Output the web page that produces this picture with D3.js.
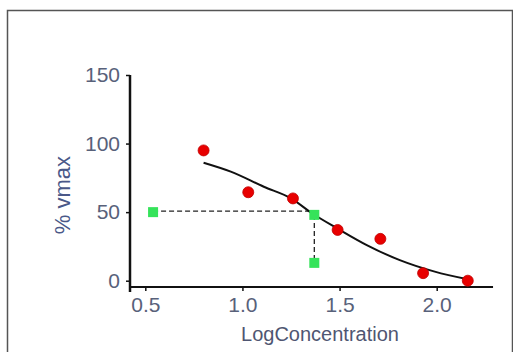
<!DOCTYPE html>
<html>
<head>
<meta charset="utf-8">
<script src="https://cdn.jsdelivr.net/npm/d3@7"></script>
<style>
  body { margin: 0; background: #fff; }
  svg { display: block; }
</style>
</head>
<body>
<div id="chart"></div>
<script>
// Data
const pointX = [0.80, 1.03, 1.26, 1.49, 1.71, 1.93, 2.16];
const pointY = [95, 64.5, 60, 37, 30.5, 5.5, 0];

// fitted curve
const curveX = [0.80, 0.94, 1.11, 1.25, 1.36, 1.49, 1.64, 1.81, 1.99, 2.16];
const curveY = [86, 79.5, 68.5, 60, 49, 38, 26, 15, 6.6, 1];

// IC50 markers (green squares)
const markerX = [0.54, 1.37, 1.37];
const markerY = [50, 48, 13];

const xTicks = [0.5, 1.0, 1.5, 2.0];
const yTicks = [0, 50, 100, 150];

const width = 513;
const height = 352;

const svg = d3.select("#chart")
  .append("svg")
  .attr("width", width)
  .attr("height", height);

// outer frame
svg.append("path")
  .attr("d", `M7.5,${height} V10.5 H${width - 0.5} V${height}`)
  .attr("fill", "none")
  .attr("stroke", "#555")
  .attr("stroke-width", 1.5);

const x = d3.scaleLinear().domain([0.5, 2.0]).range([145.3, 436.7]);
const y = d3.scaleLinear().domain([0, 150]).range([280.7, 75]);

const axisX0 = 130;   // where the y axis stands
const axisY0 = 287;   // where the x axis stands

// y axis
const yAxis = svg.append("g")
  .attr("transform", `translate(${axisX0},0)`)
  .call(d3.axisLeft(y).tickValues(yTicks).tickFormat(d3.format("d")).tickSize(4).tickPadding(6));
yAxis.select(".domain").remove();

// x axis
const xAxis = svg.append("g")
  .attr("transform", `translate(0,${axisY0})`)
  .call(d3.axisBottom(x).tickValues(xTicks).tickFormat(d3.format(".1f")).tickSize(4).tickPadding(6));
xAxis.select(".domain").remove();

svg.selectAll(".tick line").attr("stroke", "#111").attr("stroke-width", 1.5);
svg.selectAll(".tick text")
  .attr("fill", "#58617a")
  .style("font-family", "Liberation Sans, Arial, sans-serif")
  .style("font-size", "21px");

// axis lines
svg.append("line")
  .attr("x1", axisX0).attr("x2", axisX0)
  .attr("y1", y(150)).attr("y2", 292)
  .attr("stroke", "#111").attr("stroke-width", 2.5);
svg.append("line")
  .attr("x1", axisX0).attr("x2", x(2.29))
  .attr("y1", axisY0).attr("y2", axisY0)
  .attr("stroke", "#111").attr("stroke-width", 2);

// axis titles
svg.append("text")
  .attr("x", 320)
  .attr("y", 341)
  .attr("text-anchor", "middle")
  .attr("fill", "#4f5672")
  .style("font-family", "Liberation Sans, Arial, sans-serif")
  .style("font-size", "20px")
  .text("LogConcentration");

svg.append("text")
  .attr("transform", "translate(70,195) rotate(-90)")
  .attr("text-anchor", "middle")
  .attr("fill", "#4a5888")
  .style("font-family", "Liberation Sans, Arial, sans-serif")
  .style("font-size", "22px")
  .text("% vmax");

// dashed guide lines
svg.append("line")
  .attr("x1", x(markerX[0])).attr("x2", x(markerX[1]))
  .attr("y1", y(markerY[0]) - 1).attr("y2", y(markerY[0]) - 1)
  .attr("stroke", "#222").attr("stroke-width", 1.3)
  .attr("stroke-dasharray", "5,3");
svg.append("line")
  .attr("x1", x(markerX[1])).attr("x2", x(markerX[2]))
  .attr("y1", y(markerY[1])).attr("y2", y(markerY[2]))
  .attr("stroke", "#222").attr("stroke-width", 1.3)
  .attr("stroke-dasharray", "5,3");

// fitted curve
const curve = d3.line()
  .x(d => x(d[0]))
  .y(d => y(d[1]))
  .curve(d3.curveMonotoneX);
svg.append("path")
  .datum(d3.zip(curveX, curveY))
  .attr("d", curve)
  .attr("fill", "none")
  .attr("stroke", "#111")
  .attr("stroke-width", 2);

// green squares
const sq = 10;
svg.selectAll("rect.marker")
  .data(d3.zip(markerX, markerY))
  .enter()
  .append("rect")
  .attr("class", "marker")
  .attr("x", d => x(d[0]) - sq / 2)
  .attr("y", d => y(d[1]) - sq / 2)
  .attr("width", sq)
  .attr("height", sq)
  .attr("fill", "#35e35a");

// red points
svg.selectAll("circle.pt")
  .data(d3.zip(pointX, pointY))
  .enter()
  .append("circle")
  .attr("class", "pt")
  .attr("cx", d => x(d[0]))
  .attr("cy", d => y(d[1]))
  .attr("r", 5.5)
  .attr("fill", "#e80000")
  .attr("stroke", "#c00000")
  .attr("stroke-width", 0.8);
</script>
</body>
</html>
